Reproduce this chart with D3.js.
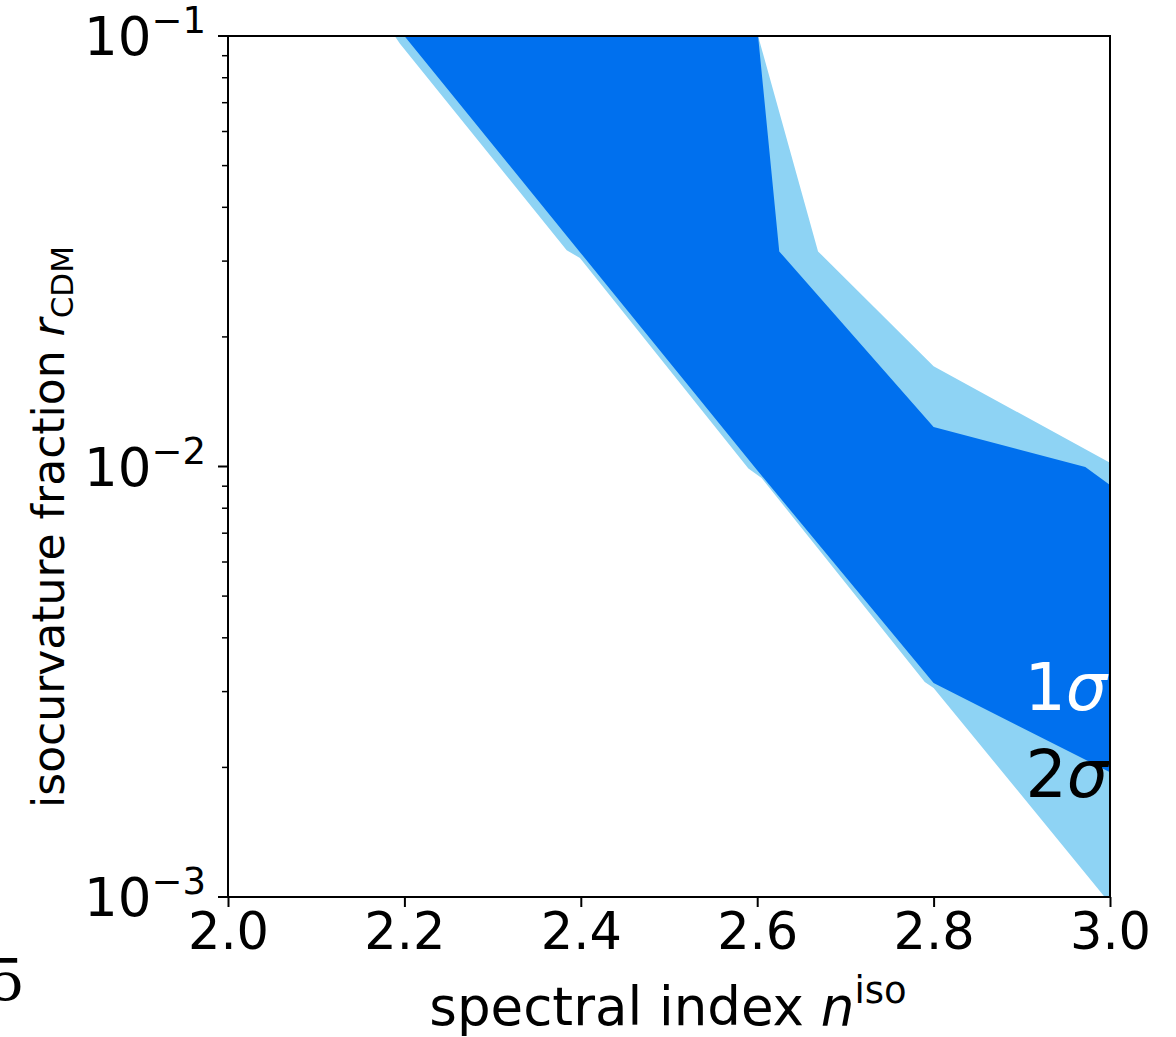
<!DOCTYPE html>
<html>
<head>
<meta charset="utf-8">
<script src="https://cdn.jsdelivr.net/npm/d3@7"></script>
<style>
  body { margin: 0; background: #fff; }
  svg text { font-family: "DejaVu Sans", sans-serif; fill: #000; }
</style>
</head>
<body>
<svg id="plot"></svg>
<script>
// contour boundaries: [n_iso, r_CDM]
const sigma2Lower = [[2.189, 0.1], [2.195, 0.096], [2.384, 0.0318], [2.399, 0.0305],
  [2.59, 0.0099], [2.605, 0.0094], [2.79, 0.00316], [2.80, 0.00306], [2.994, 0.001], [3.0, 0.001]];
const sigma2Upper = [[3.0, 0.0102], [2.8, 0.0171], [2.669, 0.0316], [2.601, 0.1]];
const sigma1Lower = [[2.2, 0.1], [2.4, 0.0313], [2.6, 0.0098], [2.8, 0.00314], [3.0, 0.00195]];
const sigma1Upper = [[3.0, 0.00906], [2.972, 0.00997], [2.8, 0.01236], [2.625, 0.0316], [2.601, 0.1]];

const xTicks = [2.0, 2.2, 2.4, 2.6, 2.8, 3.0];
const yTicks = [1e-3, 1e-2, 1e-1];
const yTickExp = ["−3", "−2", "−1"];

const width = 1176, height = 1037;
const margin = { top: 36, right: 66, bottom: 140, left: 228 };

const svg = d3.select("#plot")
    .attr("width", width)
    .attr("height", height);

const x = d3.scaleLinear()
  .domain([2, 3])
  .range([margin.left, width - margin.right]);

const y = d3.scaleLog()
  .domain([1e-3, 1e-1])
  .range([height - margin.bottom, margin.top]);

svg.append("clipPath").attr("id", "clip")
  .append("rect")
    .attr("x", x(2)).attr("y", y(0.1))
    .attr("width", x(3) - x(2)).attr("height", y(1e-3) - y(0.1));

const area = d3.line().x(d => x(d[0])).y(d => y(d[1]));

const fills = svg.append("g").attr("clip-path", "url(#clip)");

// 2 sigma region (light)
fills.append("path")
  .datum(sigma2Lower.concat(sigma2Upper))
  .attr("d", d => area(d) + "Z")
  .attr("fill", "#8ed3f4");

// 1 sigma region (dark)
fills.append("path")
  .datum(sigma1Lower.concat(sigma1Upper))
  .attr("d", d => area(d) + "Z")
  .attr("fill", "#0070ee");

// sigma labels
const lab1 = svg.append("text")
  .attr("x", x(3) - 3).attr("y", 710)
  .attr("text-anchor", "end")
  .style("font-size", "65px")
  .style("fill", "#fff");
lab1.append("tspan").text("1").style("fill", "#fff");
lab1.append("tspan").text("σ").style("font-style", "italic").style("fill", "#fff");

const lab2 = svg.append("text")
  .attr("x", x(3) - 2).attr("y", 797)
  .attr("text-anchor", "end")
  .style("font-size", "65px");
lab2.append("tspan").text("2");
lab2.append("tspan").text("σ").style("font-style", "italic");

// x axis
const xAxis = svg.append("g")
  .attr("transform", "translate(0," + y(1e-3) + ")")
  .call(d3.axisBottom(x).tickValues(xTicks).tickFormat(d3.format(".1f")).tickSize(10).tickPadding(6));
xAxis.select(".domain").remove();
xAxis.selectAll("line").attr("stroke-width", 2);
xAxis.selectAll("text").style("font-size", "51px").attr("font-family", null);

// y axis minor ticks
const minor = [];
[1e-3, 1e-2].forEach(dec => { for (let k = 2; k <= 9; k++) minor.push(dec * k); });
svg.append("g").selectAll("line")
  .data(minor).join("line")
    .attr("x1", x(2)).attr("x2", x(2) - 6)
    .attr("y1", d => y(d)).attr("y2", d => y(d))
    .attr("stroke", "#000").attr("stroke-width", 1.5);

// y axis major ticks + labels
const yMajor = svg.append("g");
yMajor.selectAll("line")
  .data(yTicks).join("line")
    .attr("x1", x(2)).attr("x2", x(2) - 10)
    .attr("y1", d => y(d)).attr("y2", d => y(d))
    .attr("stroke", "#000").attr("stroke-width", 2);
const yLab = yMajor.selectAll("text")
  .data(yTicks).join("text")
    .attr("x", 206)
    .attr("y", d => y(d) + 19)
    .attr("text-anchor", "end")
    .style("font-size", "53px");
yLab.append("tspan").text("10");
yLab.append("tspan").text((d, i) => yTickExp[i])
  .attr("dy", -22).style("font-size", "37px");

// frame
svg.append("rect")
  .attr("x", x(2)).attr("y", y(0.1))
  .attr("width", x(3) - x(2)).attr("height", y(1e-3) - y(0.1))
  .attr("fill", "none").attr("stroke", "#000").attr("stroke-width", 2);

// axis titles
const xTitle = svg.append("text")
  .attr("x", (x(2) + x(3)) / 2 - 1).attr("y", 1025)
  .attr("text-anchor", "middle")
  .style("font-size", "53px");
xTitle.append("tspan").text("spectral index ");
xTitle.append("tspan").text("n").style("font-style", "italic");
xTitle.append("tspan").text("iso").attr("dy", -22).style("font-size", "37px");

const yTitle = svg.append("text")
  .attr("transform", "translate(64,527) rotate(-90)")
  .attr("text-anchor", "middle")
  .style("font-size", "44px");
yTitle.append("tspan").text("isocurvature fraction ");
yTitle.append("tspan").text("r").style("font-style", "italic");
yTitle.append("tspan").text("CDM").attr("dy", 9).style("font-size", "31px");

// cropped panel marker from neighbouring figure
svg.append("text")
  .attr("x", -12).attr("y", 1000)
  .style("font-family", "'DejaVu Serif', serif")
  .style("font-size", "58px")
  .text("5");
</script>
</body>
</html>
